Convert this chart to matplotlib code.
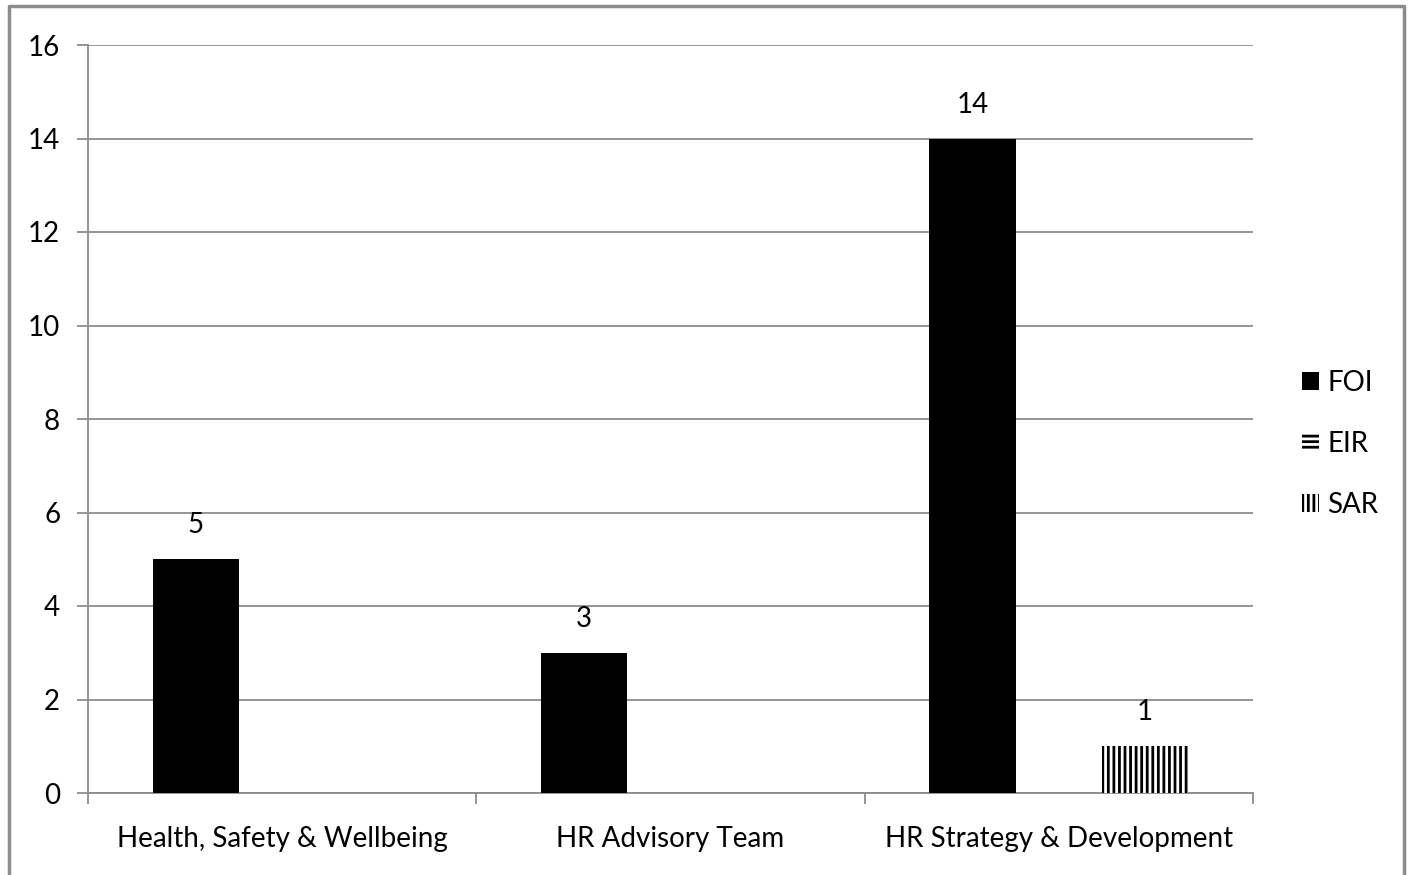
import matplotlib
matplotlib.use("Agg")
import matplotlib.pyplot as plt
import matplotlib.patches as mpatches
import numpy as np

plt.rcParams['font.family'] = ['Lato', 'DejaVu Sans']
plt.rcParams['hatch.linewidth'] = 2.0

categories = ["Health, Safety & Wellbeing", "HR Advisory Team", "HR Strategy & Development"]
series = ["FOI", "EIR", "SAR"]
foi = [5, 3, 14]
eir = [0, 0, 0]
sar = [0, 0, 1]
yticks = [0, 2, 4, 6, 8, 10, 12, 14, 16]

fig = plt.figure(figsize=(14.11, 8.75), dpi=100)
ax = fig.add_axes([88 / 1411, 1 - 793 / 875, (1253 - 88) / 1411, (793 - 45) / 875])

x = np.arange(len(categories))
w = 1 / 4.5
hatches = [None, "---", "|||"]
vals = [foi, eir, sar]
for i, (name, v) in enumerate(zip(series, vals)):
    bars = ax.bar(x + (i - 1) * w, v, w, color="white" if hatches[i] else "black",
                  edgecolor="black", linewidth=0, hatch=hatches[i], label=name, zorder=3)
    for b, val in zip(bars, v):
        if val:
            ax.annotate(str(val), (b.get_x() + b.get_width() / 2, val), xytext=(0, 15),
                        textcoords="offset points", ha="center", va="bottom", fontsize=20)

ax.set_xlim(-0.5, 2.5)
ax.set_ylim(0, 16)
ax.set_yticks(yticks)
ax.yaxis.grid(True, color="#8c8c8c", linewidth=1.3)
ax.set_axisbelow(True)
ax.set_xticks(x)
ax.set_xticklabels(categories)
ax.set_xticks([-0.5, 0.5, 1.5, 2.5], minor=True)
ax.tick_params(axis="x", which="major", length=0, pad=24, labelsize=20)
ax.tick_params(axis="x", which="minor", length=8, color="#8c8c8c", width=1.3)
ax.tick_params(axis="y", length=8, color="#8c8c8c", width=1.3, pad=12, labelsize=20)
for s in ["top", "right"]:
    ax.spines[s].set_visible(False)
for s in ["left", "bottom"]:
    ax.spines[s].set_color("#8c8c8c")
    ax.spines[s].set_linewidth(1.3)

handles = [mpatches.Patch(facecolor="black", edgecolor="black", linewidth=0),
           mpatches.Patch(facecolor="white", edgecolor="black", linewidth=0, hatch="---"),
           mpatches.Patch(facecolor="white", edgecolor="black", linewidth=0, hatch="|||")]
fig.legend(handles, series, loc="center left", bbox_to_anchor=(1277 / 1411, 1 - 444 / 875),
           frameon=False, fontsize=20, handlelength=0.6, handleheight=0.6,
           handletextpad=0.3, labelspacing=1.26)

fig.add_artist(plt.Line2D([9 / 1411, 9 / 1411, 1404 / 1411, 1404 / 1411],
                          [-0.1, 1 - 6 / 875, 1 - 6 / 875, -0.1],
                          color="#8c8c8c", linewidth=2.5, transform=fig.transFigure))

fig.savefig("out.png", dpi=100)
